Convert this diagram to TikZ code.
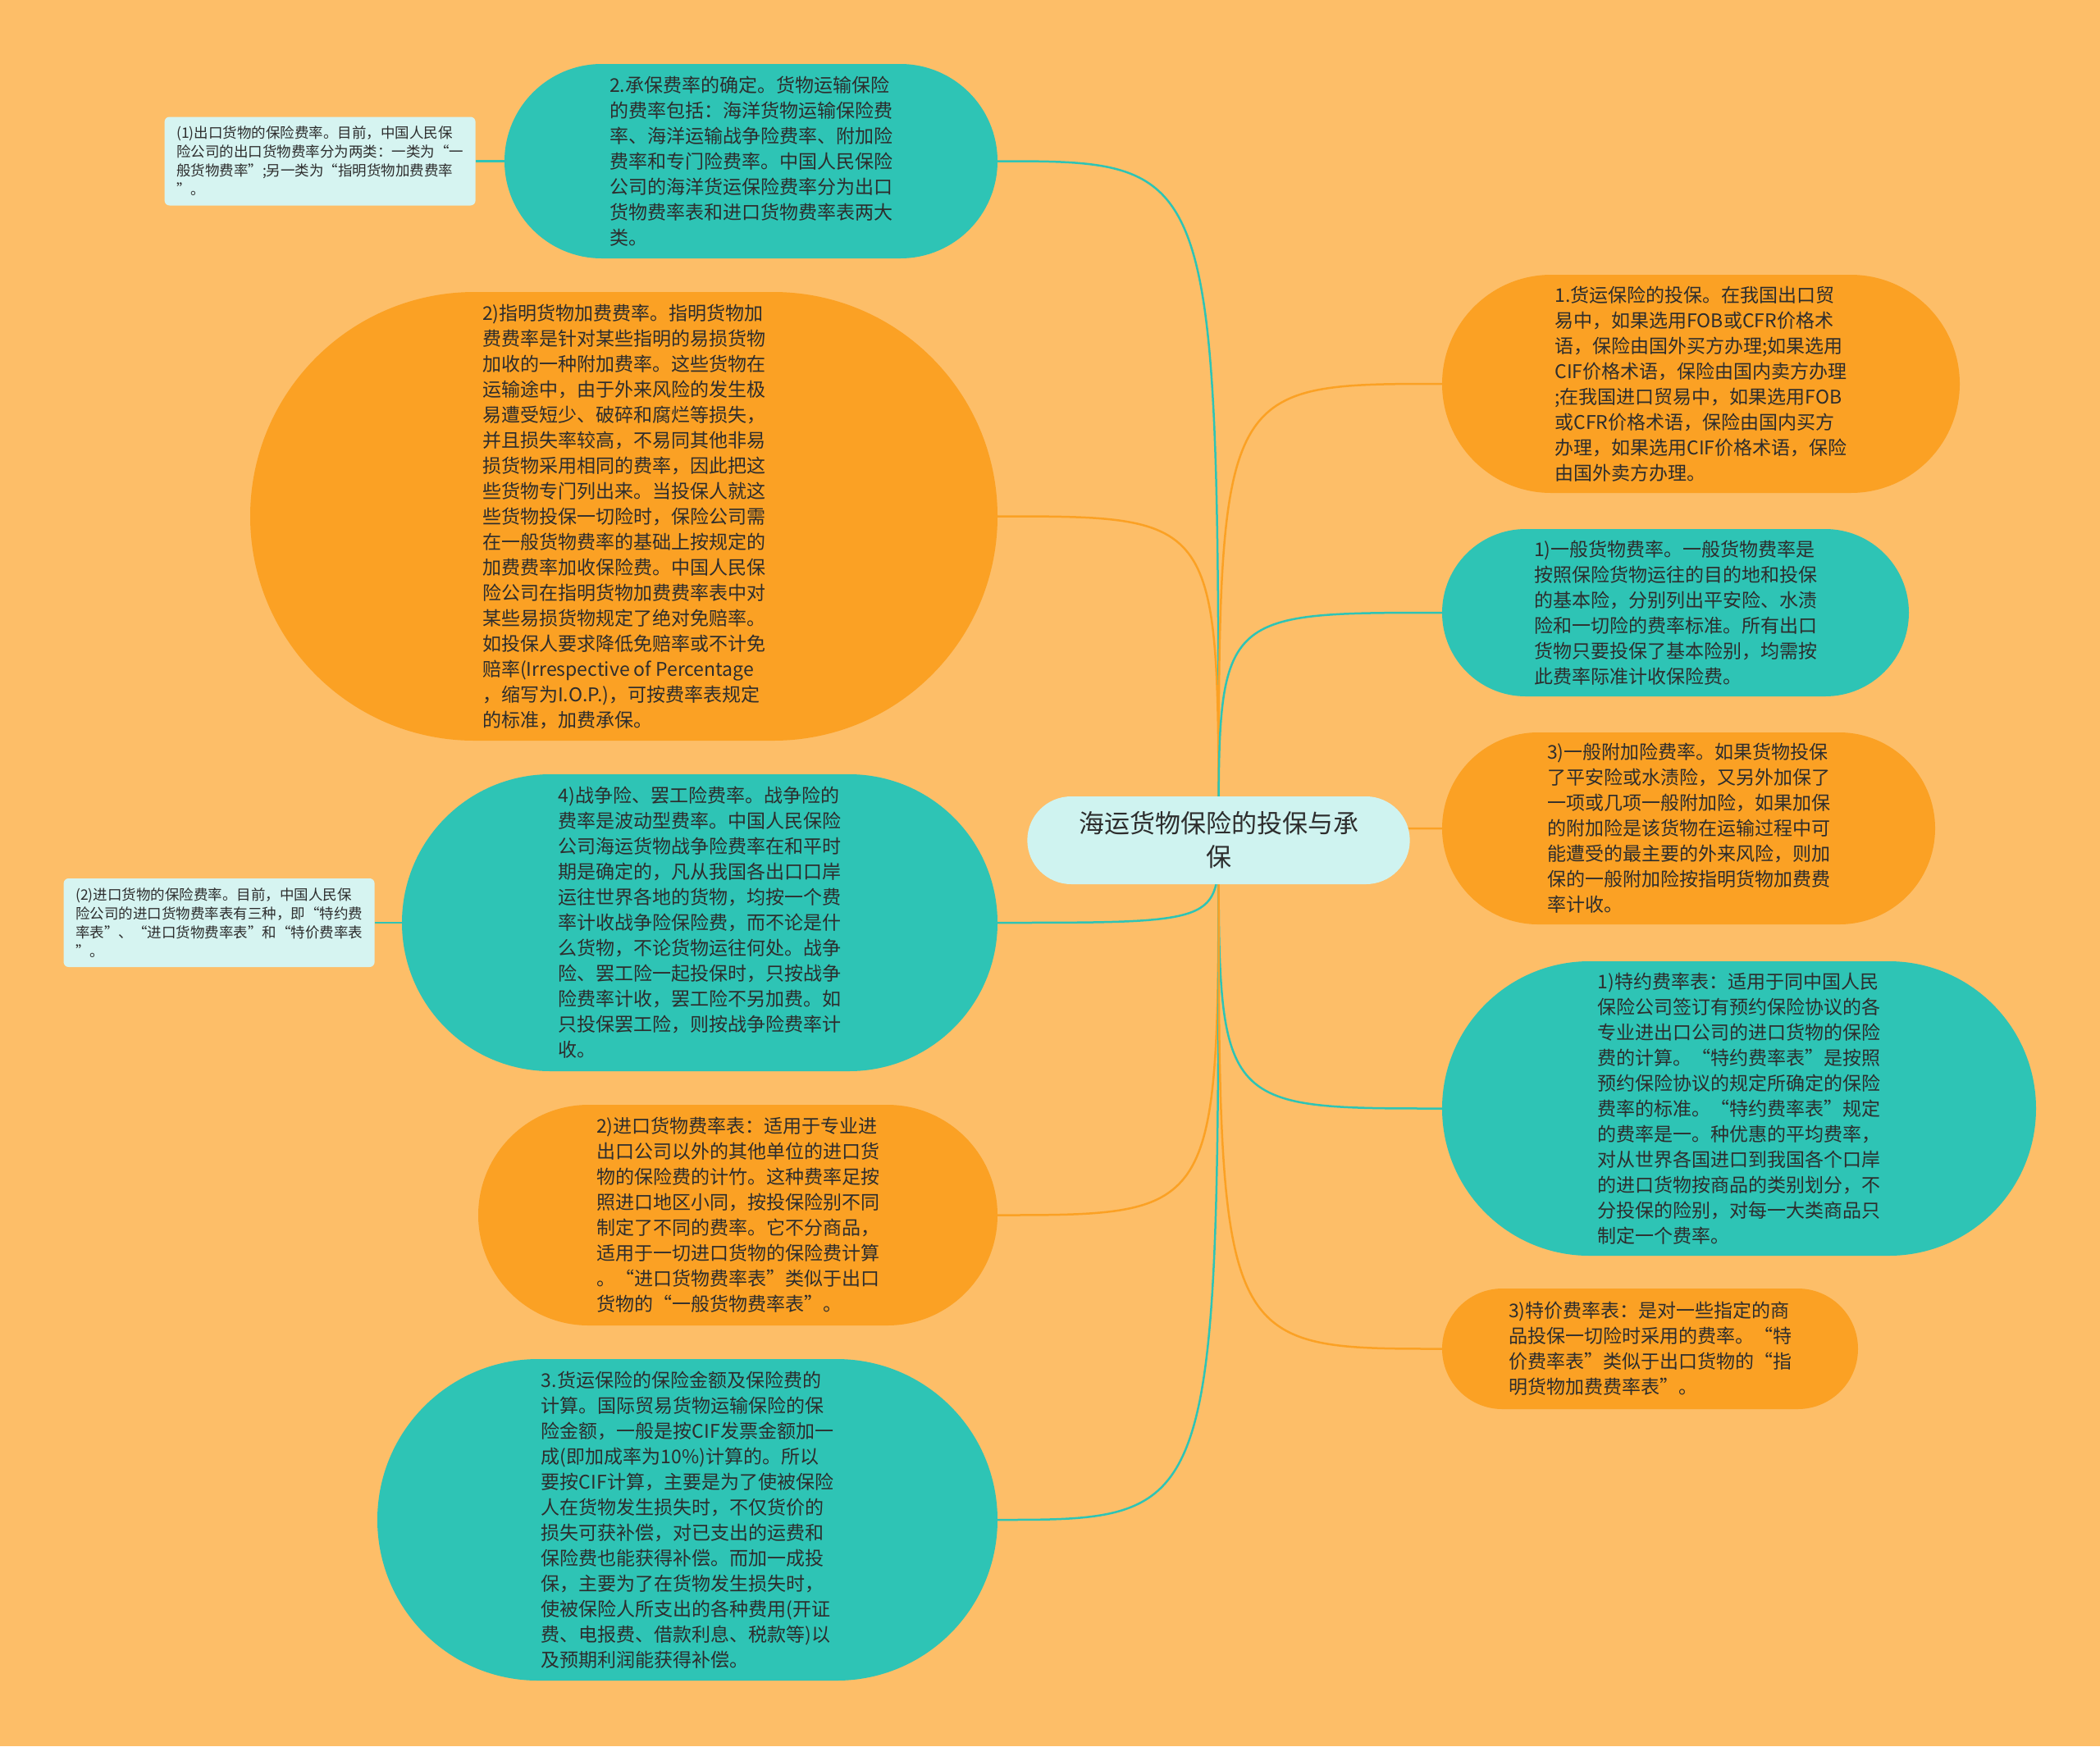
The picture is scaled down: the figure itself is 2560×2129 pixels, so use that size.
\documentclass[tikz,border=0pt]{standalone}
\usepackage{fontspec}
\setmainfont{Noto Sans CJK SC}
\usetikzlibrary{shapes.misc,positioning}
\definecolor{bgorange}{RGB}{253,190,104}
\definecolor{nodeorange}{RGB}{251,161,36}
\definecolor{nodeteal}{RGB}{46,196,181}
\definecolor{rootcyan}{RGB}{207,243,240}
\definecolor{notecyan}{RGB}{214,244,241}
\definecolor{inkgray}{RGB}{45,45,45}
\pgfdeclarelayer{bg}
\pgfdeclarelayer{edges}
\pgfsetlayers{bg,edges,main}

\begin{document}
\begin{tikzpicture}[x=1pt, y=-1pt,
  root node/.style={rounded rectangle, fill=rootcyan, text=inkgray, align=center, font=\fontsize{31}{41}\selectfont, minimum width=473pt, minimum height=107pt},
  topic node/.style={rounded rectangle, text=inkgray, align=left, font=\fontsize{23}{31}\selectfont, inner sep=0pt},
  teal node/.style={topic node, fill=nodeteal},
  orange node/.style={topic node, fill=nodeorange},
  note node/.style={rectangle, rounded corners=6pt, fill=notecyan, text=inkgray, align=left, font=\fontsize{17.5}{23}\selectfont, minimum width=379pt, minimum height=108pt},
  teal edge/.style={draw=nodeteal, line width=2.5pt},
  orange edge/.style={draw=nodeorange, line width=2.5pt}]
\useasboundingbox (0,0) rectangle (2560,2129);
\begin{pgfonlayer}{bg}
\fill[bgorange] (0,0) rectangle (2560,2129);
\end{pgfonlayer}

\node[root node] (root) at (1485.5,1024.5) {海运货物保险的投保与承\\保};

% left side
\node[teal node, minimum width=601pt, minimum height=237pt] (rate) at (915.5,196.5) {2.承保费率的确定。货物运输保险\\的费率包括：海洋货物运输保险费\\率、海洋运输战争险费率、附加险\\费率和专门险费率。中国人民保险\\公司的海洋货运保险费率分为出口\\货物费率表和进口货物费率表两大\\类。};
\node[note node, left=35pt of rate] (exportnote) {(1)出口货物的保险费率。目前，中国人民保\\险公司的出口货物费率分为两类：一类为“一\\般货物费率”;另一类为“指明货物加费费率\\”。};
\node[orange node, minimum width=911pt, minimum height=547pt] (extrarate) at (760.5,629.5) {2)指明货物加费费率。指明货物加\\费费率是针对某些指明的易损货物\\加收的一种附加费率。这些货物在\\运输途中，由于外来风险的发生极\\易遭受短少、破碎和腐烂等损失，\\并且损失率较高，不易同其他非易\\损货物采用相同的费率，因此把这\\些货物专门列出来。当投保人就这\\些货物投保一切险时，保险公司需\\在一般货物费率的基础上按规定的\\加费费率加收保险费。中国人民保\\险公司在指明货物加费费率表中对\\某些易损货物规定了绝对免赔率。\\如投保人要求降低免赔率或不计免\\赔率(Irrespective of Percentage\\，缩写为I.O.P.)，可按费率表规定\\的标准，加费承保。};
\node[teal node, minimum width=726pt, minimum height=362pt] (warrate) at (853,1125) {4)战争险、罢工险费率。战争险的\\费率是波动型费率。中国人民保险\\公司海运货物战争险费率在和平时\\期是确定的，凡从我国各出口口岸\\运往世界各地的货物，均按一个费\\率计收战争险保险费，而不论是什\\么货物，不论货物运往何处。战争\\险、罢工险一起投保时，只按战争\\险费率计收，罢工险不另加费。如\\只投保罢工险，则按战争险费率计\\收。};
\node[note node, left=33pt of warrate] (importnote) {(2)进口货物的保险费率。目前，中国人民保\\险公司的进口货物费率表有三种，即“特约费\\率表”、“进口货物费率表”和“特价费率表\\”。};
\node[orange node, minimum width=633pt, minimum height=269pt] (importtable) at (899.5,1481.5) {2)进口货物费率表：适用于专业进\\出口公司以外的其他单位的进口货\\物的保险费的计竹。这种费率足按\\照进口地区小同，按投保险别不同\\制定了不同的费率。它不分商品，\\适用于一切进口货物的保险费计算\\。“进口货物费率表”类似于出口\\货物的“一般货物费率表”。};
\node[teal node, minimum width=756pt, minimum height=392pt] (amount) at (838,1853) {3.货运保险的保险金额及保险费的\\计算。国际贸易货物运输保险的保\\险金额，一般是按CIF发票金额加一\\成(即加成率为10\%)计算的。所以\\要按CIF计算，主要是为了使被保险\\人在货物发生损失时，不仅货价的\\损失可获补偿，对已支出的运费和\\保险费也能获得补偿。而加一成投\\保，主要为了在货物发生损失时，\\使被保险人所支出的各种费用(开证\\费、电报费、借款利息、税款等)以\\及预期利润能获得补偿。};

% right side
\node[orange node, minimum width=631pt, minimum height=266pt] (application) at (2073.5,468) {1.货运保险的投保。在我国出口贸\\易中，如果选用FOB或CFR价格术\\语，保险由国外买方办理;如果选用\\CIF价格术语，保险由国内卖方办理\\;在我国进口贸易中，如果选用FOB\\或CFR价格术语，保险由国内买方\\办理，如果选用CIF价格术语，保险\\由国外卖方办理。};
\node[teal node, minimum width=569pt, minimum height=204pt] (generalrate) at (2042.5,747) {1)一般货物费率。一般货物费率是\\按照保险货物运往的目的地和投保\\的基本险，分别列出平安险、水渍\\险和一切险的费率标准。所有出口\\货物只要投保了基本险别，均需按\\此费率际准计收保险费。};
\node[orange node, minimum width=601pt, minimum height=234pt] (additionalrate) at (2058.5,1010) {3)一般附加险费率。如果货物投保\\了平安险或水渍险，又另外加保了\\一项或几项一般附加险，如果加保\\的附加险是该货物在运输过程中可\\能遭受的最主要的外来风险，则加\\保的一般附加险按指明货物加费费\\率计收。};
\node[teal node, minimum width=724pt, minimum height=359pt] (specialtable) at (2120,1351.5) {1)特约费率表：适用于同中国人民\\保险公司签订有预约保险协议的各\\专业进出口公司的进口货物的保险\\费的计算。“特约费率表”是按照\\预约保险协议的规定所确定的保险\\费率的标准。“特约费率表”规定\\的费率是一。种优惠的平均费率，\\对从世界各国进口到我国各个口岸\\的进口货物按商品的类别划分，不\\分投保的险别，对每一大类商品只\\制定一个费率。};
\node[orange node, minimum width=507pt, minimum height=147pt] (pricetable) at (2011.5,1644.5) {3)特价费率表：是对一些指定的商\\品投保一切险时采用的费率。“特\\价费率表”类似于出口货物的“指\\明货物加费费率表”。};

\begin{pgfonlayer}{edges}
\draw[teal edge] (root.center) .. controls (root.center |- rate.east) .. (rate.east);
\draw[orange edge] (root.center) .. controls (root.center |- extrarate.east) .. (extrarate.east);
\draw[teal edge] (root.center) .. controls (root.center |- warrate.east) .. (warrate.east);
\draw[orange edge] (root.center) .. controls (root.center |- importtable.east) .. (importtable.east);
\draw[teal edge] (root.center) .. controls (root.center |- amount.east) .. (amount.east);
\draw[orange edge] (root.center) .. controls (root.center |- application.west) .. (application.west);
\draw[teal edge] (root.center) .. controls (root.center |- generalrate.west) .. (generalrate.west);
\draw[orange edge] (root.center) .. controls (root.center |- additionalrate.west) .. (additionalrate.west);
\draw[teal edge] (root.center) .. controls (root.center |- specialtable.west) .. (specialtable.west);
\draw[orange edge] (root.center) .. controls (root.center |- pricetable.west) .. (pricetable.west);
\draw[teal edge] (rate.west) -- (exportnote.east);
\draw[teal edge] (warrate.west) -- (importnote.east);
\end{pgfonlayer}
\end{tikzpicture}
\end{document}
